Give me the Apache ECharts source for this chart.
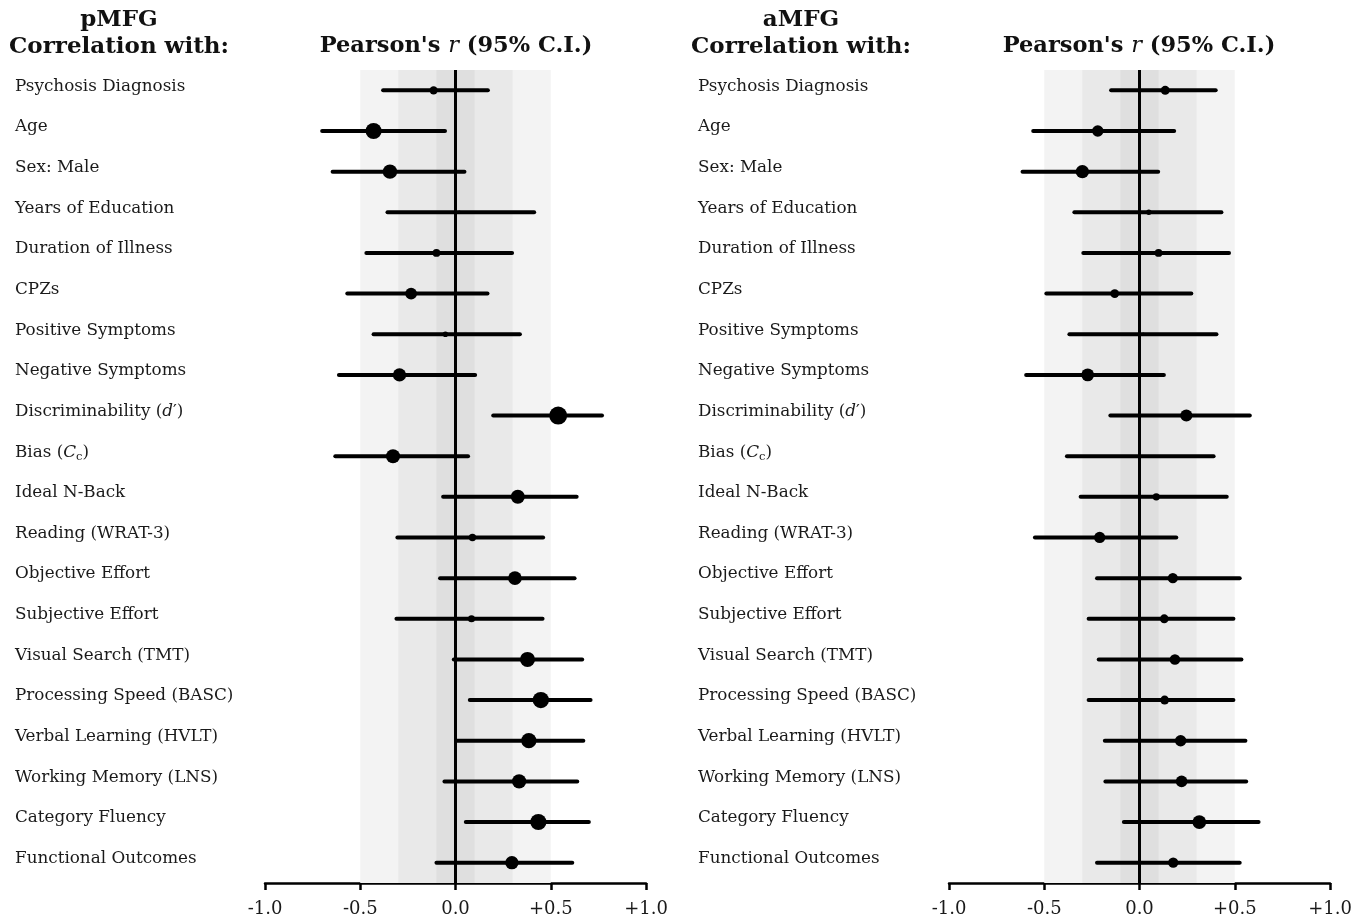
<!DOCTYPE html>
<html>
<head>
<meta charset="utf-8">
<script src="https://cdn.jsdelivr.net/npm/echarts@6/dist/echarts.min.js"></script>
<style>
html,body{margin:0;padding:0;background:#fff;}
#chart{width:1365px;height:923px;}
</style>
</head>
<body>
<div id="chart"></div>
<script>
const categories = [
  'Psychosis Diagnosis','Age','Sex: Male','Years of Education','Duration of Illness',
  'CPZs','Positive Symptoms','Negative Symptoms','Discriminability (d′)','Bias (Cc)',
  'Ideal N-Back','Reading (WRAT-3)','Objective Effort','Subjective Effort','Visual Search (TMT)',
  'Processing Speed (BASC)','Verbal Learning (HVLT)','Working Memory (LNS)','Category Fluency','Functional Outcomes'
];
// pMFG
const pLow  = [-0.38,-0.70,-0.645,-0.357,-0.468,-0.568,-0.43,-0.612, 0.198,-0.631,-0.065,-0.305,-0.081,-0.31,-0.009, 0.075, 0.009,-0.058, 0.054,-0.10];
const pR    = [-0.115,-0.43,-0.344, 0.02,-0.10,-0.233,-0.053,-0.294, 0.539,-0.328, 0.327, 0.089, 0.312, 0.084, 0.378, 0.448, 0.385, 0.334, 0.435, 0.296];
const pHigh = [ 0.17,-0.055, 0.047, 0.413, 0.297, 0.168, 0.338, 0.103, 0.769, 0.066, 0.636, 0.46, 0.625, 0.457, 0.665, 0.709, 0.671, 0.639, 0.70, 0.613];
// aMFG
const aLow  = [-0.149,-0.558,-0.614,-0.342,-0.295,-0.489,-0.368,-0.595,-0.153,-0.381,-0.309,-0.549,-0.223,-0.267,-0.214,-0.267,-0.182,-0.179,-0.082,-0.223];
const aR    = [ 0.135,-0.219,-0.30, 0.049, 0.10,-0.13, 0.02,-0.272, 0.246, 0.005, 0.088,-0.209, 0.175, 0.13, 0.186, 0.132, 0.216, 0.221, 0.314, 0.177];
const aHigh = [ 0.40, 0.182, 0.098, 0.43, 0.47, 0.272, 0.404, 0.128, 0.579, 0.389, 0.458, 0.193, 0.526, 0.493, 0.535, 0.493, 0.556, 0.56, 0.625, 0.526];

const tickValues = [-1, -0.5, 0, 0.5, 1];
const tickLabels = ['-1.0', '-0.5', '0.0', '+0.5', '+1.0'];

const FONT = '"DejaVu Serif", "Liberation Serif", serif';
const chart = echarts.init(document.getElementById('chart'));

function labelFmt(v) {
  if (v.indexOf('Discriminability') === 0) return 'Discriminability ({i|d}′)';
  if (v.indexOf('Bias') === 0) return 'Bias ({i|C}{sub|c})';
  return v;
}
const labelRich = {
  i: {fontFamily: FONT, fontSize: 16.8, fontStyle: 'italic', color: '#1a1a1a'},
  sub: {fontFamily: FONT, fontSize: 11.5, color: '#1a1a1a', padding: [9, 0, 0, 0]}
};

function grid(left) { return {left: left, width: 381, top: 70, height: 813}; }
function xAxis(idx) {
  return {
    gridIndex: idx, type: 'value', min: -1, max: 1, interval: 0.5,
    axisLine: {show: true, lineStyle: {color: '#000', width: 2.5}},
    axisTick: {show: true, length: 7, lineStyle: {color: '#000', width: 2.5}},
    splitLine: {show: false},
    axisLabel: {
      margin: 17, fontFamily: FONT, fontSize: 18, color: '#1a1a1a',
      formatter: function (v) { const k = tickValues.findIndex(t => Math.abs(t - v) < 1e-9); return k >= 0 ? tickLabels[k] : ''; }
    }
  };
}
function yAxis(idx, margin) {
  return {
    gridIndex: idx, type: 'category', inverse: true, data: categories,
    axisLine: {show: false}, axisTick: {show: false}, splitLine: {show: false},
    axisLabel: {
      margin: margin, align: 'left', fontFamily: FONT, fontSize: 16.8, color: '#1a1a1a',
      padding: [0, 0, 8, 0], formatter: labelFmt, rich: labelRich
    }
  };
}
function ciSeries(idx, lo, hi) {
  return {
    type: 'custom', xAxisIndex: idx, yAxisIndex: idx, z: 3,
    data: categories.map((c, i) => [lo[i], i, hi[i]]),
    encode: {x: [0, 2], y: 1},
    renderItem: function (params, api) {
      const y = api.value(1);
      const s = api.coord([api.value(0), y]);
      const e = api.coord([api.value(2), y]);
      return {type: 'line', shape: {x1: s[0], y1: s[1], x2: e[0], y2: e[1]},
        style: {stroke: '#000', lineWidth: 4, lineCap: 'round'}};
    },
    markArea: {
      silent: true,
      data: [
        [{xAxis: -0.5, itemStyle: {color: '#f3f3f3'}}, {xAxis: 0.5}],
        [{xAxis: -0.3, itemStyle: {color: '#e9e9e9'}}, {xAxis: 0.3}],
        [{xAxis: -0.1, itemStyle: {color: '#dfdfdf'}}, {xAxis: 0.1}]
      ]
    },
    markLine: {
      silent: true, symbol: 'none', label: {show: false},
      lineStyle: {color: '#000', width: 3, type: 'solid'},
      data: [{xAxis: 0}]
    }
  };
}
function dotSeries(idx, r) {
  return {
    type: 'scatter', xAxisIndex: idx, yAxisIndex: idx, z: 4,
    data: categories.map((c, i) => [r[i], i]),
    symbol: 'circle',
    symbolSize: function (v) { return 24.5 * Math.sqrt(Math.abs(v[0])); },
    itemStyle: {color: '#000', opacity: 1}
  };
}
const headStyle = {font: 'bold 23px ' + FONT, fill: '#111', textAlign: 'center', textVerticalAlign: 'middle'};
function pearson(x) {
  return {type: 'text', x: x, y: 46, style: {
    text: "{b|Pearson's }{i|r}{b| (95% C.I.)}", textAlign: 'center', textVerticalAlign: 'middle',
    rich: {b: {fontFamily: FONT, fontSize: 22.5, fontWeight: 'bold', fill: '#111'},
           i: {fontFamily: FONT, fontSize: 22.5, fontStyle: 'italic', fill: '#111'}}
  }};
}

chart.setOption({
  animation: false,
  grid: [grid(265), grid(949)],
  xAxis: [xAxis(0), xAxis(1)],
  yAxis: [yAxis(0, 250), yAxis(1, 251)],
  series: [ciSeries(0, pLow, pHigh), dotSeries(0, pR), ciSeries(1, aLow, aHigh), dotSeries(1, aR)],
  graphic: [
    {type: 'text', x: 119, y: 20, style: Object.assign({text: 'pMFG'}, headStyle)},
    {type: 'text', x: 119, y: 47, style: Object.assign({text: 'Correlation with:'}, headStyle)},
    {type: 'text', x: 801, y: 20, style: Object.assign({text: 'aMFG'}, headStyle)},
    {type: 'text', x: 801, y: 47, style: Object.assign({text: 'Correlation with:'}, headStyle)},
    pearson(456), pearson(1139)
  ]
});
</script>
</body>
</html>
